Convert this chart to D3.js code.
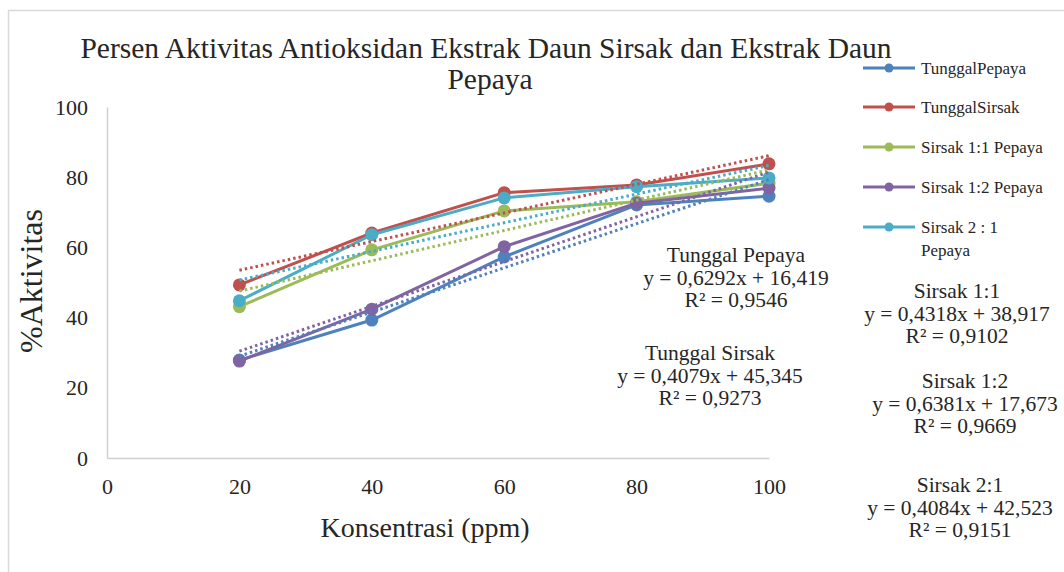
<!DOCTYPE html>
<html>
<head>
<meta charset="utf-8">
<script src="https://cdn.jsdelivr.net/npm/d3@7"></script>
<style>
  body { margin: 0; background: #fff; }
  text { font-family: "Liberation Serif", "Times New Roman", serif; fill: #262626; }
</style>
</head>
<body>
<svg id="chart" width="1064" height="572"></svg>
<script>
// data
const konsentrasi = [20, 40, 60, 80, 100];
const tunggalPepaya = [27.9, 39.3, 57.3, 72.1, 74.6];
const tunggalSirsak = [49.3, 64.1, 75.6, 77.8, 83.8];
const sirsak11 = [43.1, 59.3, 70.4, 73.0, 78.3];
const sirsak12 = [27.6, 42.4, 60.2, 72.6, 76.9];
const sirsak21 = [44.8, 63.6, 74.1, 77.3, 79.8];

const seriesNames = ["TunggalPepaya", "TunggalSirsak", "Sirsak 1:1 Pepaya", "Sirsak 1:2 Pepaya", "Sirsak 2 : 1 Pepaya"];
const seriesColors = ["#4F81BD", "#C0504D", "#9BBB59", "#8064A2", "#4BACC6"];

// linear trendlines (slope, intercept, R²)
const slopes = [0.6292, 0.4079, 0.4318, 0.6381, 0.4084];
const intercepts = [16.419, 45.345, 38.917, 17.673, 42.523];
const rSquared = [0.9546, 0.9273, 0.9102, 0.9669, 0.9151];
const eqTitles = ["Tunggal Pepaya", "Tunggal Sirsak", "Sirsak 1:1", "Sirsak 1:2", "Sirsak 2:1"];

const xTicks = [0, 20, 40, 60, 80, 100];
const yTicks = [0, 20, 40, 60, 80, 100];

const allSeries = [tunggalPepaya, tunggalSirsak, sirsak11, sirsak12, sirsak21];

const svg = d3.select("#chart");

// outer frame
svg.append("rect")
    .attr("x", 8.5).attr("y", 10.5)
    .attr("width", 1200).attr("height", 700)
    .attr("fill", "none")
    .attr("stroke", "#d9d9d9")
    .attr("stroke-width", 1.5);

const xScale = d3.scaleLinear().domain([0, 100]).range([107, 769]);
const yScale = d3.scaleLinear().domain([0, 100]).range([458, 107]);

// axes
const xAxis = d3.axisBottom(xScale).tickValues(xTicks).tickSize(0).tickPadding(20);
const yAxis = d3.axisLeft(yScale).tickValues(yTicks).tickSize(0).tickPadding(19);

const gx = svg.append("g").attr("transform", `translate(0,${yScale(0)})`).call(xAxis);
const gy = svg.append("g").attr("transform", `translate(${xScale(0)},0)`).call(yAxis);
[gx, gy].forEach(g => {
    g.select(".domain").attr("stroke", "#d0d0d0").attr("stroke-width", 1.5);
    g.selectAll("text")
        .style("font-family", "'Liberation Serif', serif")
        .style("font-size", "22px")
        .attr("fill", "#404040");
});

// series lines + markers
const line = d3.line()
    .x((d, i) => xScale(konsentrasi[i]))
    .y(d => yScale(d));

allSeries.forEach((vals, k) => {
    svg.append("path")
        .datum(vals)
        .attr("d", line)
        .attr("fill", "none")
        .attr("stroke", seriesColors[k])
        .attr("stroke-width", 3)
        .attr("stroke-linejoin", "round");
    svg.selectAll(null)
        .data(vals)
        .enter().append("circle")
        .attr("cx", (d, i) => xScale(konsentrasi[i]))
        .attr("cy", d => yScale(d))
        .attr("r", 6.5)
        .attr("fill", seriesColors[k]);
});

// trendlines (dotted)
slopes.forEach((m, k) => {
    const x0 = konsentrasi[0], x1 = konsentrasi[konsentrasi.length - 1];
    svg.append("line")
        .attr("x1", xScale(x0)).attr("y1", yScale(m * x0 + intercepts[k]))
        .attr("x2", xScale(x1)).attr("y2", yScale(m * x1 + intercepts[k]))
        .attr("stroke", seriesColors[k])
        .attr("stroke-width", 3)
        .attr("stroke-dasharray", "2.5,3");
});

// title
const title = svg.append("text")
    .attr("text-anchor", "middle")
    .style("font-size", "29.5px")
    .attr("fill", "#1a1a1a");
title.append("tspan").attr("x", 486).attr("y", 58)
    .text("Persen Aktivitas Antioksidan Ekstrak Daun Sirsak dan Ekstrak Daun");
title.append("tspan").attr("x", 490).attr("y", 89).text("Pepaya");

// axis titles
svg.append("text")
    .attr("transform", "translate(42,281) rotate(-90)")
    .attr("text-anchor", "middle")
    .style("font-size", "32px")
    .attr("fill", "#404040")
    .text("%Aktivitas");

svg.append("text")
    .attr("x", 425).attr("y", 537)
    .attr("text-anchor", "middle")
    .style("font-size", "28px")
    .attr("fill", "#404040")
    .text("Konsentrasi (ppm)");

// legend
const legendY = [68, 107, 147, 187, 227];
const legend = svg.append("g");
seriesNames.forEach((name, k) => {
    const ly = legendY[k];
    legend.append("line")
        .attr("x1", 863).attr("x2", 915)
        .attr("y1", ly).attr("y2", ly)
        .attr("stroke", seriesColors[k])
        .attr("stroke-width", 3);
    legend.append("circle")
        .attr("cx", 889).attr("cy", ly).attr("r", 4.5)
        .attr("fill", seriesColors[k]);
    const t = legend.append("text")
        .attr("x", 921).attr("y", ly + 6)
        .style("font-size", "17px")
        .attr("fill", "#262626");
    if (k === 4) {
        t.append("tspan").attr("x", 921).text("Sirsak 2 : 1");
        t.append("tspan").attr("x", 921).attr("dy", 23).text("Pepaya");
    } else {
        t.text(name);
    }
});

// trendline equations
const fmt = v => String(v).replace(".", ",");
const eqPos = [[736, 262], [710, 360], [957, 298], [965, 388], [960, 492]];
eqTitles.forEach((ttl, k) => {
    const [cx, by] = eqPos[k];
    const g = svg.append("text")
        .attr("text-anchor", "middle")
        .style("font-size", "21.5px")
        .attr("fill", "#1a1a1a");
    g.append("tspan").attr("x", cx).attr("y", by).text(ttl);
    g.append("tspan").attr("x", cx).attr("y", by + 23)
        .text(`y = ${fmt(slopes[k])}x + ${fmt(intercepts[k])}`);
    g.append("tspan").attr("x", cx).attr("y", by + 45)
        .text(`R² = ${fmt(rSquared[k])}`);
});
</script>
</body>
</html>
